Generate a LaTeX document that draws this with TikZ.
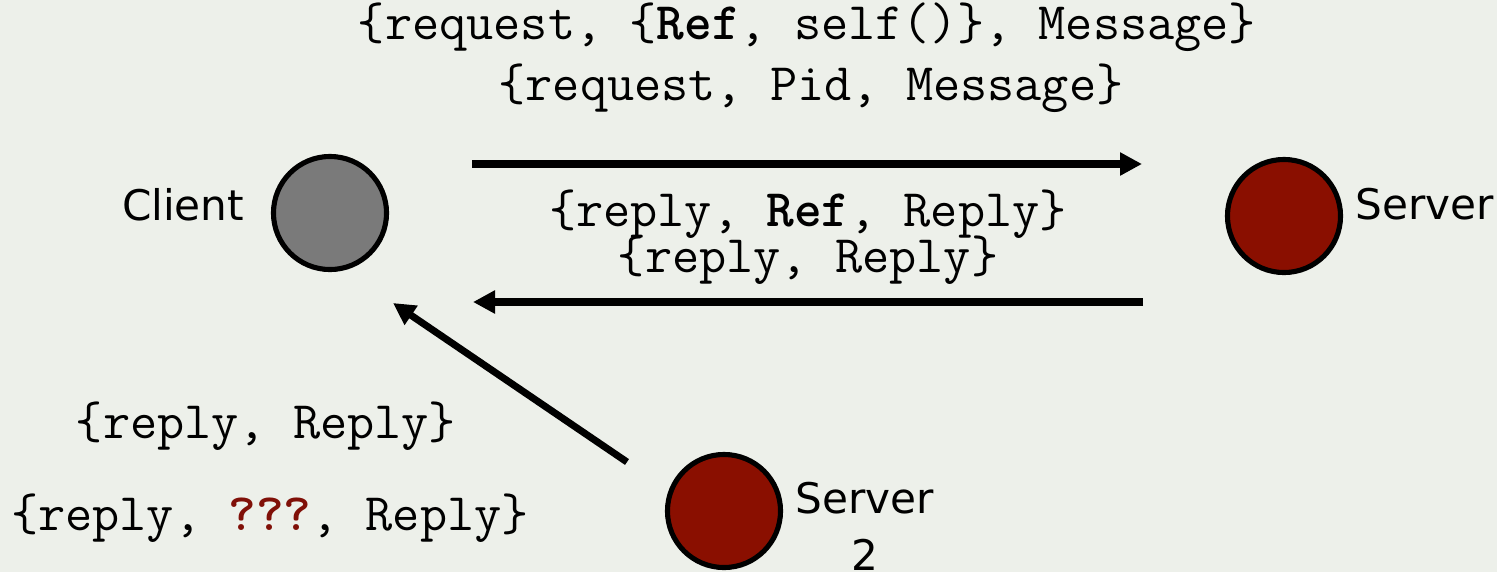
\documentclass[tikz,border=0pt]{standalone}
\usepackage{fontspec}
\usetikzlibrary{arrows.meta, positioning}
\newfontfamily\procfont{DejaVu Sans}
\definecolor{bgcol}{RGB}{237,240,234}
\definecolor{procred}{RGB}{138,15,0}
\definecolor{procgray}{RGB}{122,122,122}
\definecolor{unknownred}{RGB}{128,16,8}
\tikzstyle{proc}=[draw,circle,line width=1.45pt,minimum size=1.13cm,inner sep=0pt]
\tikzstyle{msg}=[font=\ttfamily\fontsize{15}{17}\selectfont,inner sep=0pt,anchor=base]
\tikzstyle{procname}=[font=\procfont\fontsize{12}{16.2}\selectfont,inner sep=0pt]
\tikzstyle{flow}=[line width=2pt]

\begin{document}
\begin{tikzpicture}[x=0.01cm,y=-0.01cm,>={Triangle[length=0.22cm,width=0.22cm]}]
    \fill[bgcol] (0,0) rectangle (1497,572);
    \useasboundingbox (0,0) rectangle (1497,572);
    % the three processes
    \node[proc, fill=procgray] (client) at (330,213) {};
    \node[proc, fill=procred] (server) at (1284,216) {};
    \node[proc, fill=procred] (server2) at (724,511) {};
    \node[procname, left=0.26cm of client, yshift=0.08cm] (clientname) {Client};
    \node[procname, right=0.12cm of server, yshift=0.12cm] (servername) {Server};
    \node[procname, right=0.12cm of server2, yshift=-0.15cm, align=center] (server2name) {Server\\2};
    % message arrows
    \coordinate (reqtail) at (472,164);
    \coordinate (reqhead) at (1142,164);
    \coordinate (reptail) at (1143,302);
    \coordinate (rephead) at (473,302);
    \coordinate (straytail) at (627,462);
    \coordinate (strayhead) at (393,303);
    \draw[flow, ->] (reqtail) -- (reqhead);
    \draw[flow, ->] (reptail) -- (rephead);
    \draw[flow, ->] (straytail) -- (strayhead);
    % message texts
    \node[msg] (reqref) at (807,39) {\{request, \{\textbf{Ref}, self()\}, Message\}};
    \node[msg] (reqpid) at (811,100) {\{request, Pid, Message\}};
    \node[msg] (repref) at (808,226) {\{reply, \textbf{Ref}, Reply\}};
    \node[msg] (repplain) at (808,272) {\{reply, Reply\}};
    \node[msg] (strayplain) at (266,438) {\{reply, Reply\}};
    \node[msg] (strayunknown) at (270,530) {\{reply, \textcolor{unknownred}{\textbf{???}}, Reply\}};
\end{tikzpicture}
\end{document}
